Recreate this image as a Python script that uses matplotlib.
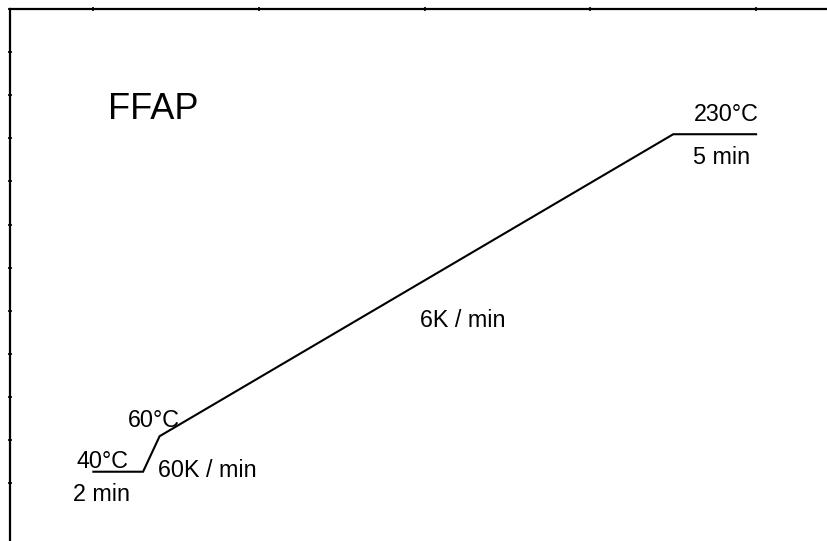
import matplotlib
matplotlib.use("Agg")
import matplotlib.pyplot as plt
import numpy as np

# Temperature program (schematic time axis, minutes)
time_min = [0, 3, 4, 35, 40]
temp_c = [40, 40, 60, 230, 230]

title = "FFAP"
labels = ["230°C", "5 min", "6K / min", "60°C", "40°C", "60K / min", "2 min"]

W, H = 828, 541
fig = plt.figure(figsize=(W / 100, H / 100), dpi=100)
ax = fig.add_axes([10 / W, 0, (W - 10) / W, (H - 9) / H])

ax.plot(time_min, temp_c, color="black", lw=1.5, solid_joinstyle="miter")
ax.set_xlim(-5.03, 44.34)
ax.set_ylim(1.0, 300.5)

for s in ("right", "bottom"):
    ax.spines[s].set_visible(False)
for s in ("left", "top"):
    ax.spines[s].set_linewidth(1.6)

ax.xaxis.tick_top()
ax.set_xticks(np.arange(0, 41, 10))
ax.set_yticks(300.5 - 24.27 * np.arange(12))
ax.tick_params(axis="both", direction="inout", length=3, width=1.2,
               labelleft=False, labeltop=False, labelbottom=False)

font = "Liberation Sans"

def put(txt, x_px, y_px, size=16.8, ha="left"):
    fig.text(x_px / W, 1 - y_px / H, txt, ha=ha, va="baseline",
             fontsize=size, family=font, color="black")

put(title, 108, 119, size=26)
put(labels[0], 694, 120.7)
put(labels[1], 693, 164)
put(labels[2], 420, 326.7)
put(labels[3], 128, 426.7)
put(labels[4], 77, 468)
put(labels[5], 158, 477)
put(labels[6], 73, 501)

fig.savefig("out.png", dpi=100)
